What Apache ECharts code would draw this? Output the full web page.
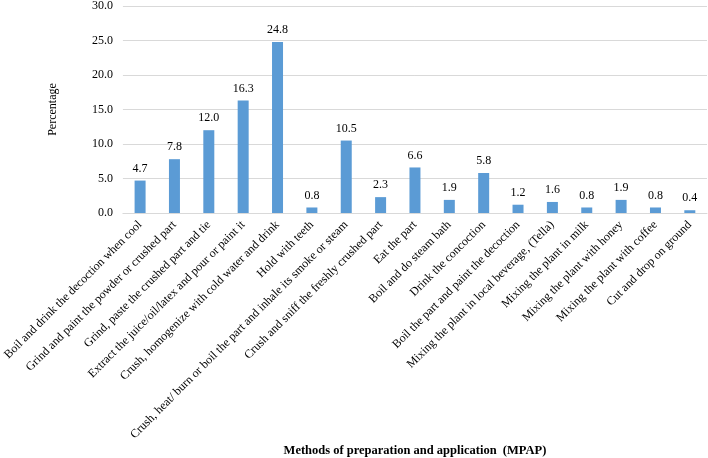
<!DOCTYPE html>
<html>
<head>
<meta charset="utf-8">
<script src="https://cdn.jsdelivr.net/npm/echarts@6/dist/echarts.min.js"></script>
<style>
html,body{margin:0;padding:0;background:#fff;}
#chart{width:708px;height:458px;}
</style>
</head>
<body>
<div id="chart"></div>
<script>
// methods of preparation and application
var methods = [
  'Boil and drink the decoction when cool',
  'Grind and paint the powder or crushed part',
  'Grind, paste the crushed part and tie',
  'Extract the juice/oil/latex and pour or paint it',
  'Crush, homogenize with cold water and drink',
  'Hold with teeth',
  'Crush, heat/ burn or boil the part and inhale its smoke or steam',
  'Crush and sniff the freshly crushed part',
  'Eat the part',
  'Boil and do steam bath',
  'Drink the concoction',
  'Boil the part and paint the decoction',
  'Mixing the plant in local beverage, (Tella)',
  'Mixing the plant in milk',
  'Mixing the plant with honey',
  'Mixing the plant with coffee',
  'Cut and drop on ground'
];
var percentage = [4.7, 7.8, 12.0, 16.3, 24.8, 0.8, 10.5, 2.3, 6.6, 1.9, 5.8, 1.2, 1.6, 0.8, 1.9, 0.8, 0.4];
var yTicks = [0, 5, 10, 15, 20, 25, 30];

var serif = '"Liberation Serif", "Times New Roman", serif';
var myChart = echarts.init(document.getElementById('chart'));
var option = {
  animation: false,
  textStyle: {fontFamily: serif},
  grid: {left: 119, right: 1, top: 4, bottom: 244},
  xAxis: {
    type: 'category',
    data: methods,
    name: 'Methods of preparation and application  (MPAP)',
    nameLocation: 'middle',
    nameGap: 230,
    nameTextStyle: {fontFamily: serif, fontWeight: 'bold', fontSize: 12.5, color: '#000'},
    axisLine: {show: true, lineStyle: {color: '#d9d9d9'}},
    axisTick: {show: false},
    axisLabel: {interval: 0, rotate: 45, fontFamily: serif, fontSize: 12, color: '#000', margin: 10}
  },
  yAxis: {
    type: 'value',
    min: yTicks[0],
    max: yTicks[yTicks.length - 1],
    interval: 5,
    name: 'Percentage',
    nameLocation: 'middle',
    nameGap: 64,
    nameTextStyle: {fontFamily: serif, fontSize: 12, color: '#000'},
    axisLine: {show: false},
    axisTick: {show: false},
    splitLine: {lineStyle: {color: '#d9d9d9'}},
    axisLabel: {fontFamily: serif, fontSize: 12, color: '#000', margin: 10,
      formatter: function (v) { return v.toFixed(1); }}
  },
  series: [{
    type: 'bar',
    data: percentage,
    barWidth: 11,
    itemStyle: {color: '#5b9bd5'},
    label: {show: true, position: 'top', distance: 6, fontFamily: serif, fontSize: 12, color: '#000',
      formatter: function (p) { return p.value.toFixed(1); }}
  }]
};
myChart.setOption(option);
</script>
</body>
</html>
